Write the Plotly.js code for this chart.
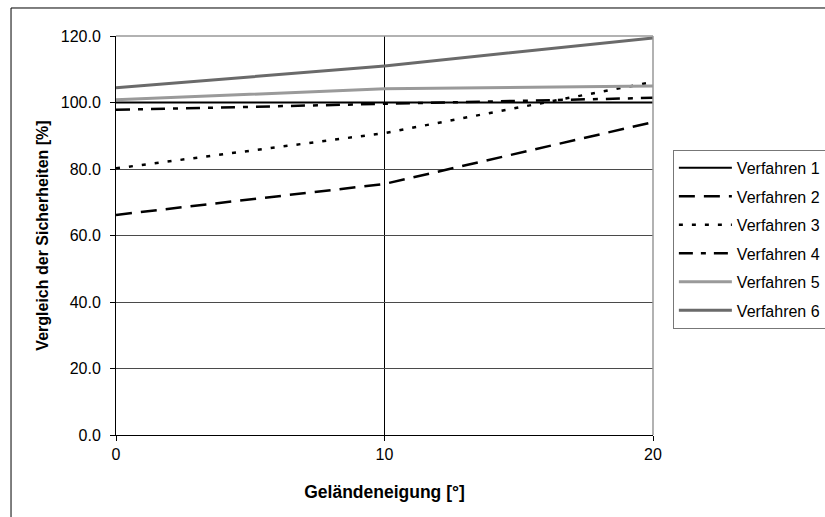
<!DOCTYPE html>
<html>
<head>
<meta charset="utf-8">
<script src="https://cdn.plot.ly/plotly-3.0.1.min.js"></script>
<style>html,body{margin:0;padding:0;background:#fff;}#chart{width:825px;height:517px;}</style>
</head>
<body>
<div id="chart"></div>
<script>
const neigung = [0, 10, 20];
const seriesNames = ["Verfahren 1", "Verfahren 2", "Verfahren 3", "Verfahren 4", "Verfahren 5", "Verfahren 6"];
const verfahren1 = [100.0, 100.0, 100.0];
const verfahren2 = [66.2, 75.5, 94.1];
const verfahren3 = [80.2, 90.8, 106.2];
const verfahren4 = [97.8, 99.5, 101.4];
const verfahren5 = [100.8, 104.1, 105.0];
const verfahren6 = [104.4, 111.0, 119.4];
const yTicks = [0, 20, 40, 60, 80, 100, 120];
const xTicks = [0, 10, 20];

const allValues = [verfahren1, verfahren2, verfahren3, verfahren4, verfahren5, verfahren6];
const styles = [
  {color: '#000000', width: 2, dash: 'solid'},
  {color: '#000000', width: 2.5, dash: '16px,9px'},
  {color: '#000000', width: 2.5, dash: '4px,9px'},
  {color: '#000000', width: 2.5, dash: '14px,8px,5px,8px'},
  {color: '#9a9a9a', width: 3, dash: 'solid'},
  {color: '#6a6a6a', width: 3, dash: 'solid'}
];

const traces = allValues.map((vals, i) => ({
  x: neigung,
  y: vals,
  name: seriesNames[i],
  type: 'scatter',
  mode: 'lines',
  line: styles[i],
  legendgroup: 'g' + i
}));

const font = {family: '"Liberation Sans", Arial, sans-serif', size: 16, color: '#000'};

const layout = {
  width: 825,
  height: 517,
  margin: {l: 116, r: 172, t: 36, b: 82, autoexpand: false},
  paper_bgcolor: '#ffffff',
  plot_bgcolor: '#ffffff',
  font: font,
  showlegend: true,
  legend: {
    x: 1.037, y: 0.7145, xanchor: 'left', yanchor: 'top',
    bordercolor: '#777', borderwidth: 1,
    font: font,
    traceorder: 'grouped',
    tracegroupgap: 4.7,
    itemwidth: 53,
    bgcolor: '#fff'
  },
  xaxis: {
    range: [0, 20],
    tickvals: xTicks,
    ticktext: xTicks.map(String),
    ticks: 'outside', ticklen: 5, tickcolor: '#000',
    showline: true, linecolor: '#000', linewidth: 1,
    showgrid: true, gridcolor: '#000', gridwidth: 1,
    zeroline: false,
    tickfont: font,
    title: {text: 'Geländeneigung [°]', font: {family: font.family, size: 17.5, color: '#000', weight: 'bold'}, standoff: 23},
    automargin: false
  },
  yaxis: {
    range: [0, 120],
    tickvals: yTicks,
    ticktext: yTicks.map(v => v.toFixed(1)),
    ticks: 'outside', ticklen: 5, tickcolor: '#000',
    ticklabelstandoff: 6,
    showline: true, linecolor: '#000', linewidth: 1,
    showgrid: true, gridcolor: '#4a4a4a', gridwidth: 1,
    zeroline: false,
    tickfont: font,
    title: {text: 'Vergleich der Sicherheiten [%]', font: {family: font.family, size: 16, color: '#000', weight: 'bold'}, standoff: 8},
    automargin: false
  },
  shapes: [
    {type: 'line', xref: 'paper', yref: 'paper', x0: 0, x1: 1, y0: 1, y1: 1, line: {color: '#999', width: 1.5}},
    {type: 'line', xref: 'paper', yref: 'paper', x0: 1, x1: 1, y0: 0, y1: 1, line: {color: '#999', width: 1.5}},
    {type: 'rect', xref: 'paper', yref: 'paper', x0: -0.1955, x1: 1.8, y0: -0.5, y1: 1.0702, line: {color: '#000', width: 1}, layer: 'below'}
  ]
};

Plotly.newPlot('chart', traces, layout, {staticPlot: true, displayModeBar: false});
</script>
</body>
</html>
